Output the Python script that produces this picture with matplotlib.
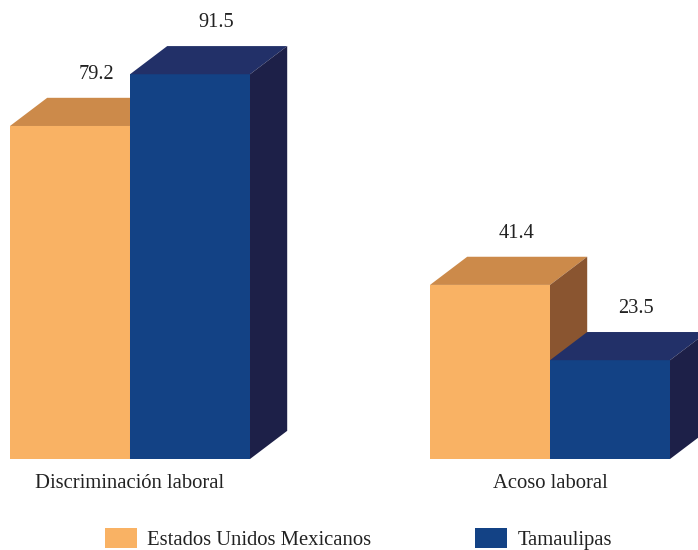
import matplotlib
matplotlib.use('Agg')
import matplotlib.pyplot as plt
from matplotlib.patches import Polygon, Patch

# Data
categories = ['Discriminación laboral', 'Acoso laboral']
series_names = ['Estados Unidos Mexicanos', 'Tamaulipas']
nacional = [79.2, 41.4]
tamaulipas = [91.5, 23.5]

plt.rcParams['font.family'] = ['Liberation Serif', 'DejaVu Serif']

# Colours for the front, top and side faces of each series.
colors = {
    'Estados Unidos Mexicanos': ('#F9B264', '#CC8A4A', '#8A5530'),
    'Tamaulipas': ('#134285', '#223068', '#1D2048'),
}

fig = plt.figure(figsize=(6.98, 5.5), dpi=100)
ax = fig.add_axes([0, 0, 1, 1])
ax.set_xlim(-1.0833, 4.7333)
ax.set_ylim(-21.64, 109.16)
ax.axis('off')

group_x = [0, 3.5]
width = 1.0
dx, dy = 0.31, 6.7


def draw_bar(x0, h, faces):
    """Draws one pseudo-3D bar with its left edge at x0 and height h."""
    front, top, side = faces
    ax.add_patch(Polygon([(x0, 0), (x0 + width, 0), (x0 + width, h), (x0, h)],
                         closed=True, facecolor=front, edgecolor='none'))
    ax.add_patch(Polygon([(x0, h), (x0 + width, h), (x0 + width + dx, h + dy),
                          (x0 + dx, h + dy)],
                         closed=True, facecolor=top, edgecolor='none'))
    ax.add_patch(Polygon([(x0 + width, 0), (x0 + width + dx, dy),
                          (x0 + width + dx, h + dy), (x0 + width, h)],
                         closed=True, facecolor=side, edgecolor='none'))
    ax.text(x0 + width / 2 + 0.22, h + dy + 5.6, f'{h:.1f}', ha='center',
            va='center', fontsize=14.7, color='#222222')


for gx, a, b in zip(group_x, nacional, tamaulipas):
    draw_bar(gx - width, a, colors[series_names[0]])
    draw_bar(gx, b, colors[series_names[1]])

for gx, cat in zip(group_x, categories):
    ax.text(gx, -5.8, cat, ha='center', va='center', fontsize=14.9,
            color='#222222')

handles = [Patch(facecolor=colors[n][0], edgecolor='none') for n in series_names]
leg = ax.legend(handles, series_names, loc='lower left',
                bbox_to_anchor=(105 / 698, 0), ncol=2, frameon=False,
                fontsize=14.9, handlelength=1.55, handleheight=1.1,
                handletextpad=0.5, columnspacing=5.0, borderpad=0,
                borderaxespad=0)
for t in leg.get_texts():
    t.set_color('#222222')

fig.savefig('out.png', dpi=100)
